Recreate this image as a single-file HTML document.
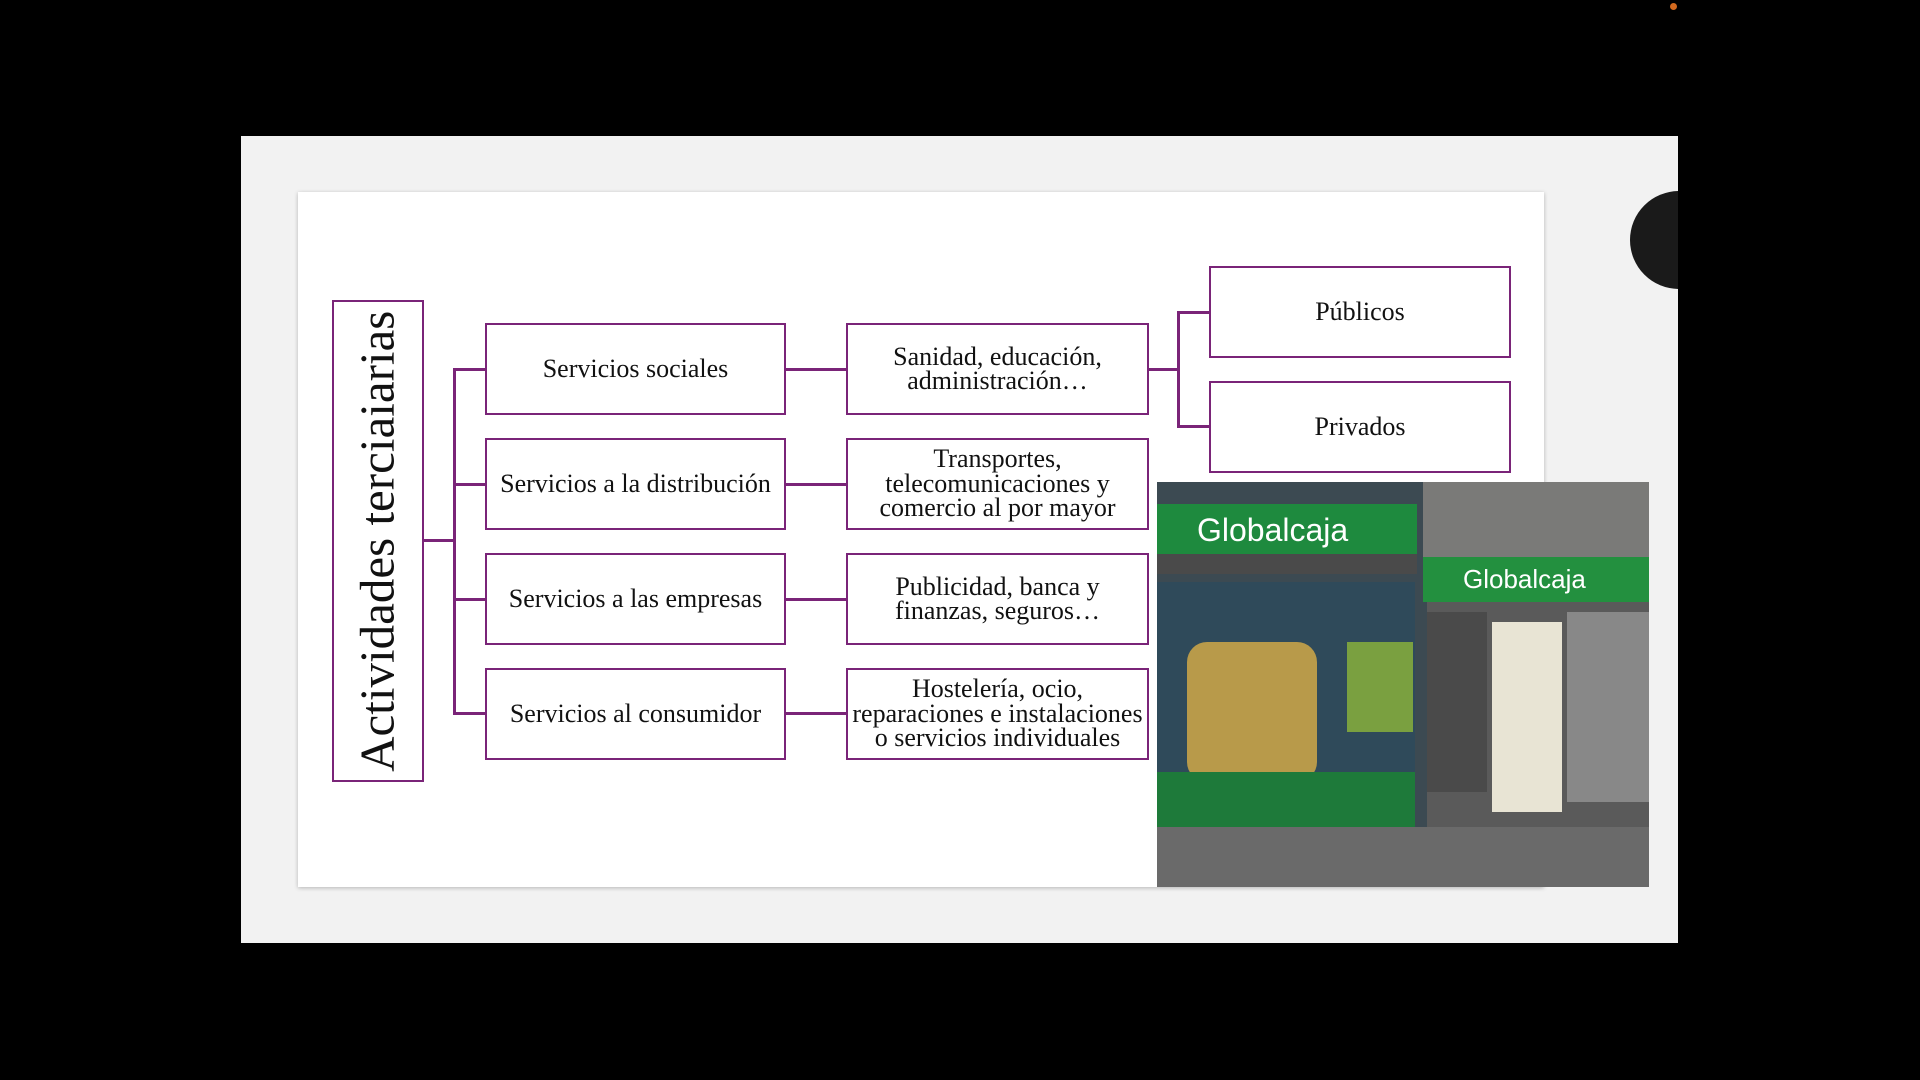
<!DOCTYPE html>
<html><head><meta charset="utf-8"><style>
body{margin:0;width:1920px;height:1080px;background:#000;position:relative;overflow:hidden;font-family:"Liberation Serif",serif;}
.a{position:absolute;box-sizing:border-box}
.box{position:absolute;box-sizing:border-box;border:2.5px solid #7a2478;background:#fff;display:flex;align-items:center;justify-content:center;text-align:center;font-size:26px;line-height:24.5px;color:#111;white-space:nowrap}
.l{position:absolute;background:#7a2478}
</style></head><body>
<div class="a" style="left:1670px;top:3px;width:7px;height:7px;border-radius:50%;background:#d2691e"></div>
<div class="a" style="left:241px;top:136px;width:1437px;height:807px;background:#f2f2f2;overflow:hidden">
  <div class="a" style="left:1389px;top:55px;width:98px;height:98px;border-radius:50%;background:#1a1a1a"></div>
</div>
<div class="a" style="left:298px;top:192px;width:1246px;height:695px;background:#fff;box-shadow:0 1px 4px rgba(0,0,0,.25)"></div>

<div class="box" style="left:332px;top:300px;width:92px;height:482px"><div style="transform:rotate(-90deg);white-space:nowrap;font-size:49px">Actividades terciaiarias</div></div>

<div class="l" style="left:424px;top:539px;width:31px;height:2.5px"></div>
<div class="l" style="left:453px;top:368px;width:2.5px;height:346px"></div>
<div class="l" style="left:453px;top:368px;width:32px;height:2.5px"></div>
<div class="l" style="left:453px;top:483px;width:32px;height:2.5px"></div>
<div class="l" style="left:453px;top:598px;width:32px;height:2.5px"></div>
<div class="l" style="left:453px;top:712px;width:32px;height:2.5px"></div>
<div class="l" style="left:786px;top:368px;width:60px;height:2.5px"></div>
<div class="l" style="left:786px;top:483px;width:60px;height:2.5px"></div>
<div class="l" style="left:786px;top:598px;width:60px;height:2.5px"></div>
<div class="l" style="left:786px;top:712px;width:60px;height:2.5px"></div>
<div class="l" style="left:1149px;top:368px;width:30px;height:2.5px"></div>
<div class="l" style="left:1177px;top:311px;width:2.5px;height:116px"></div>
<div class="l" style="left:1177px;top:311px;width:32px;height:2.5px"></div>
<div class="l" style="left:1177px;top:425px;width:32px;height:2.5px"></div>

<div class="box" style="left:485px;top:323px;width:301px;height:92px">Servicios sociales</div>
<div class="box" style="left:485px;top:438px;width:301px;height:92px">Servicios a la distribución</div>
<div class="box" style="left:485px;top:553px;width:301px;height:92px">Servicios a las empresas</div>
<div class="box" style="left:485px;top:668px;width:301px;height:92px">Servicios al consumidor</div>

<div class="box" style="left:846px;top:323px;width:303px;height:92px">Sanidad, educación,<br>administración…</div>
<div class="box" style="left:846px;top:438px;width:303px;height:92px">Transportes,<br>telecomunicaciones y<br>comercio al por mayor</div>
<div class="box" style="left:846px;top:553px;width:303px;height:92px">Publicidad, banca y<br>finanzas, seguros…</div>
<div class="box" style="left:846px;top:668px;width:303px;height:92px">Hostelería, ocio,<br>reparaciones e instalaciones<br>o servicios individuales</div>

<div class="box" style="left:1209px;top:266px;width:302px;height:92px">Públicos</div>
<div class="box" style="left:1209px;top:381px;width:302px;height:92px">Privados</div>

<div class="a" style="left:1157px;top:482px;width:492px;height:405px;background:#5a5a5a;overflow:hidden">
  <div class="a" style="left:0;top:0;width:270px;height:405px;background:#3c4a52"></div>
  <div class="a" style="left:0;top:22px;width:260px;height:50px;background:#1e8a3e;color:#fff;font-family:'Liberation Sans',sans-serif;font-size:32px;padding:8px 0 0 40px">Globalcaja</div>
  <div class="a" style="left:0;top:72px;width:260px;height:20px;background:#4a4a4a"></div>
  <div class="a" style="left:0;top:100px;width:258px;height:220px;background:#2f4a5a"></div>
  <div class="a" style="left:30px;top:160px;width:130px;height:140px;background:#b89a4a;border-radius:20px"></div>
  <div class="a" style="left:190px;top:160px;width:66px;height:90px;background:#7aa040"></div>
  <div class="a" style="left:0;top:290px;width:258px;height:55px;background:#1e7a3a"></div>
  <div class="a" style="left:266px;top:0;width:226px;height:75px;background:#7a7a78"></div>
  <div class="a" style="left:266px;top:75px;width:226px;height:45px;background:#23903f;color:#fff;font-family:'Liberation Sans',sans-serif;font-size:26px;padding:7px 0 0 40px">Globalcaja</div>
  <div class="a" style="left:270px;top:130px;width:60px;height:180px;background:#4a4a4a"></div>
  <div class="a" style="left:335px;top:140px;width:70px;height:190px;background:#e8e4d4"></div>
  <div class="a" style="left:410px;top:130px;width:82px;height:190px;background:#888"></div>
  <div class="a" style="left:0;top:345px;width:492px;height:60px;background:#6a6a6a"></div>
</div>
</body></html>
